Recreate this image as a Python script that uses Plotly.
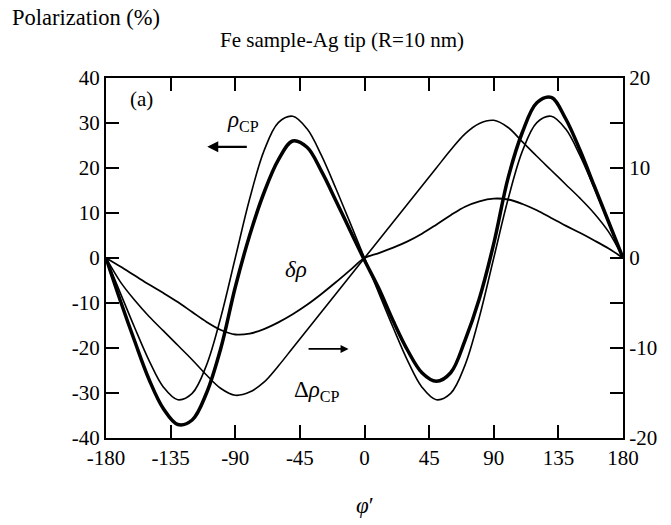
import plotly.graph_objects as go

phi = list(range(-180, 181, 10))

# rho_CP, thin curve (left axis, %)
rho_thin = [0, -7.8, -15.5, -22.8, -28.7, -31.5, -30.1, -23.8, -13.1, 0,
            13.1, 23.8, 30.1, 31.5, 28.7, 22.8, 15.5, 7.8, 0,
            -7.8, -15.5, -22.8, -28.7, -31.5, -30.1, -23.8, -13.1, 0,
            13.1, 23.8, 30.1, 31.5, 28.7, 22.8, 15.5, 7.8, 0]

# rho_CP, thick curve (left axis, %)
rho_thick = [0, -9.5, -18.5, -27.0, -33.5, -37.0, -36.0, -30.0, -20.0, -6.5,
             5.0, 14.5, 21.8, 26.0, 24.6, 19.3, 12.8, 6.1, -0.5,
             -6.8, -14.0, -20.5, -25.5, -27.4, -25.5, -18.3, -9.0, 3.2,
             17.8, 28.0, 34.5, 35.7, 31.0, 24.0, 16.0, 8.0, 0]

# Delta rho_CP (right axis, %)
delta_rho_cp = [0, -2.65, -4.7, -6.5, -8.1, -9.7, -11.3, -13.0, -14.5, -15.25,
                -14.9, -13.8, -12.0, -10.0, -8.0, -6.0, -4.0, -2.0, 0,
                2.0, 4.0, 6.0, 8.0, 10.0, 12.0, 13.8, 14.95, 15.3,
                14.5, 12.9, 11.3, 9.75, 8.2, 6.65, 4.95, 2.9, 0]

# delta rho (right axis, %)
small_delta_rho = [0, -0.95, -1.95, -2.95, -3.9, -4.9, -6.0, -7.1, -8.0, -8.5,
                   -8.4, -7.9, -7.15, -6.25, -5.2, -4.0, -2.7, -1.35, 0,
                   0.55, 1.15, 1.85, 2.7, 3.7, 4.75, 5.7, 6.3, 6.6,
                   6.5, 6.0, 5.3, 4.45, 3.6, 2.8, 1.95, 1.05, 0]

x_ticks = [-180, -135, -90, -45, 0, 45, 90, 135, 180]
left_ticks = [-40, -30, -20, -10, 0, 10, 20, 30, 40]
right_ticks = [-20, -15, -10, -5, 0, 5, 10, 15, 20]
right_labels = ["-20", "", "-10", "", "0", "", "10", "", "20"]

FONT = "Liberation Serif"

fig = go.Figure()
fig.add_trace(go.Scatter(x=phi, y=rho_thin, mode="lines",
                         line=dict(color="black", width=1.6, shape="spline", smoothing=1.0)))
fig.add_trace(go.Scatter(x=phi, y=rho_thick, mode="lines",
                         line=dict(color="black", width=3.5, shape="spline", smoothing=1.0)))
fig.add_trace(go.Scatter(x=phi, y=delta_rho_cp, mode="lines", yaxis="y2",
                         line=dict(color="black", width=1.6, shape="spline", smoothing=1.0)))
fig.add_trace(go.Scatter(x=phi, y=small_delta_rho, mode="lines", yaxis="y2",
                         line=dict(color="black", width=1.8, shape="spline", smoothing=1.0)))

axis_common = dict(showline=True, linecolor="black", linewidth=2, ticks="inside",
                   ticklen=13, tickwidth=2, tickcolor="black", showgrid=False,
                   zeroline=False, tickfont=dict(family=FONT, size=21, color="black"))

fig.update_layout(
    width=671, height=525,
    margin=dict(l=106, r=48, t=78, b=87),
    paper_bgcolor="white", plot_bgcolor="white",
    showlegend=False,
    font=dict(family=FONT, size=21, color="black"),
    xaxis=dict(range=[-180, 180], tickvals=x_ticks, ticktext=[str(v) for v in x_ticks],
               mirror="ticks", **axis_common),
    yaxis=dict(range=[-40, 40], tickvals=left_ticks, ticktext=[str(v) for v in left_ticks],
               **axis_common),
    yaxis2=dict(range=[-20, 20], tickvals=right_ticks, ticktext=right_labels,
                overlaying="y", side="right", **axis_common),
)

ann = []
ann.append(dict(text="Polarization (%)", xref="paper", yref="paper", x=-0.1857, y=1.167,
                xanchor="left", yanchor="middle", showarrow=False, font=dict(size=22.5)))
ann.append(dict(text="Fe sample-Ag tip (R=10 nm)", xref="paper", yref="paper", x=0.217, y=1.106,
                xanchor="left", yanchor="middle", showarrow=False, font=dict(size=21)))
ann.append(dict(text="(a)", xref="x", yref="y", x=-155, y=35.4, showarrow=False, font=dict(size=21)))
ann.append(dict(text="<i>ρ</i><sub>CP</sub>", xref="x", yref="y", x=-84.5, y=30.5,
                showarrow=False, font=dict(size=23)))
ann.append(dict(text="<i>δρ</i>", xref="x", yref="y", x=-47.5, y=-2.6,
                showarrow=False, font=dict(size=23)))
ann.append(dict(text="Δ<i>ρ</i><sub>CP</sub>", xref="x", yref="y", x=-33.2, y=-29.5,
                showarrow=False, font=dict(size=23)))
ann.append(dict(text="", xref="x", yref="y", x=-109.5, y=24.7, axref="x", ayref="y",
                ax=-80.9, ay=24.7, showarrow=True, arrowhead=2, arrowsize=1, arrowwidth=2.2,
                arrowcolor="black"))
ann.append(dict(text="", xref="x", yref="y", x=-11.1, y=-20.2, axref="x", ayref="y",
                ax=-40.0, ay=-20.2, showarrow=True, arrowhead=2, arrowsize=1, arrowwidth=1.6,
                arrowcolor="black"))
ann.append(dict(text="<i>φ</i>′", xref="x", yref="paper", x=0, y=0, yanchor="middle",
                yshift=-67, showarrow=False, font=dict(size=23)))
fig.update_layout(annotations=ann)

# remove the browser's default 8 px body margin so the figure sits at the window's corner
fig.write_html("out.html", config={"displayModeBar": False},
               post_script="document.body.style.margin='0';")
